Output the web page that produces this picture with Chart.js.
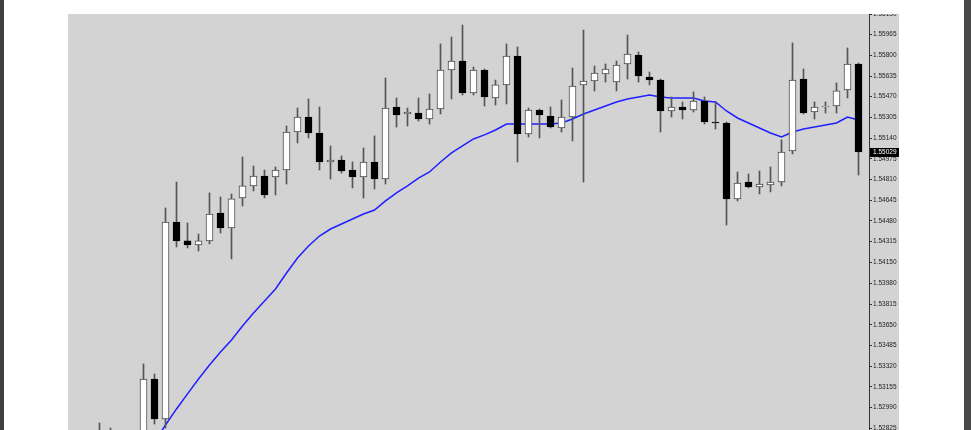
<!DOCTYPE html>
<html>
<head>
<meta charset="utf-8">
<title>Candles + MA</title>
<script src="https://cdn.jsdelivr.net/npm/chart.js@4.4.1/dist/chart.umd.min.js"></script>
<style>
    html, body { margin: 0; padding: 0; background: #fff; }
    canvas { display: block; }
</style>
</head>
<body>
<canvas id="chart" width="971" height="430"></canvas>
<script>
// ===================================================================
// Candlestick chart (MT4 style) drawn with floating bars + MA line
// ===================================================================

// bar index, one per candle
const bars = Array.from({ length: 70 }, (_, i) => i);

const opens = [
    1.52790, 1.52770, 1.52790, 1.52720, 1.52760, 1.53217, 1.52898, 1.54470, 1.54319, 1.54287,
    1.54319, 1.54542, 1.54422, 1.54662, 1.54758, 1.54837, 1.54829, 1.54885, 1.55188, 1.55308,
    1.55180, 1.54949, 1.54965, 1.54885, 1.54829, 1.54949, 1.54813, 1.55388, 1.55332, 1.55340,
    1.55292, 1.55372, 1.55683, 1.55755, 1.55500, 1.55683, 1.55460, 1.55564, 1.55795, 1.55173,
    1.55364, 1.55316, 1.55220, 1.55308, 1.55564, 1.55595, 1.55651, 1.55587, 1.55731, 1.55803,
    1.55627, 1.55603, 1.55356, 1.55388, 1.55364, 1.55436, 1.55268, 1.55260, 1.54654, 1.54789,
    1.54750, 1.54765, 1.54789, 1.55037, 1.55611, 1.55348, 1.55388, 1.55396, 1.55524, 1.55731
];
const highs = [
    1.52866, 1.52826, 1.52805, 1.52800, 1.53337, 1.53257, 1.54582, 1.54789, 1.54462, 1.54374,
    1.54702, 1.54670, 1.54694, 1.54989, 1.54917, 1.54885, 1.54909, 1.55236, 1.55380, 1.55452,
    1.55388, 1.55077, 1.54997, 1.54949, 1.55061, 1.55157, 1.55619, 1.55460, 1.55380, 1.55460,
    1.55492, 1.55891, 1.55946, 1.56042, 1.55707, 1.55691, 1.55603, 1.55891, 1.55867, 1.55380,
    1.55372, 1.55388, 1.55444, 1.55699, 1.56002, 1.55715, 1.55731, 1.55755, 1.55962, 1.55827,
    1.55667, 1.55611, 1.55468, 1.55428, 1.55508, 1.55468, 1.55428, 1.55268, 1.54869, 1.54853,
    1.54877, 1.54909, 1.55125, 1.55899, 1.55691, 1.55428, 1.55428, 1.55580, 1.55859, 1.55739
];
const lows = [
    1.52720, 1.52700, 1.52680, 1.52660, 1.52700, 1.52858, 1.52826, 1.54271, 1.54263, 1.54239,
    1.54295, 1.54382, 1.54175, 1.54598, 1.54718, 1.54662, 1.54686, 1.54773, 1.55101, 1.55141,
    1.54885, 1.54813, 1.54861, 1.54742, 1.54662, 1.54734, 1.54773, 1.55228, 1.55236, 1.55276,
    1.55252, 1.55332, 1.55452, 1.55484, 1.55484, 1.55396, 1.55404, 1.55412, 1.54949, 1.55149,
    1.55141, 1.55220, 1.55188, 1.55117, 1.54789, 1.55516, 1.55587, 1.55516, 1.55611, 1.55587,
    1.55564, 1.55188, 1.55308, 1.55292, 1.55348, 1.55252, 1.55212, 1.54446, 1.54638, 1.54742,
    1.54694, 1.54710, 1.54758, 1.55013, 1.55332, 1.55292, 1.55340, 1.55340, 1.55460, 1.54845
];
const closes = [
    1.52770, 1.52790, 1.52720, 1.52760, 1.53217, 1.52898, 1.54470, 1.54319, 1.54287, 1.54319,
    1.54534, 1.54422, 1.54654, 1.54758, 1.54837, 1.54686, 1.54885, 1.55188, 1.55308, 1.55180,
    1.54949, 1.54965, 1.54877, 1.54829, 1.54949, 1.54813, 1.55380, 1.55324, 1.55348, 1.55292,
    1.55372, 1.55683, 1.55755, 1.55500, 1.55683, 1.55468, 1.55564, 1.55795, 1.55173, 1.55364,
    1.55324, 1.55228, 1.55308, 1.55555, 1.55595, 1.55659, 1.55691, 1.55723, 1.55811, 1.55635,
    1.55603, 1.55356, 1.55388, 1.55364, 1.55436, 1.55268, 1.55260, 1.54654, 1.54781, 1.54750,
    1.54773, 1.54789, 1.55029, 1.55603, 1.55340, 1.55388, 1.55396, 1.55516, 1.55731, 1.55029
];

// moving average (blue line)
const ma = [
    null, null, null, null, null,
    1.52714, 1.52850, 1.52978, 1.53098, 1.53217,
    1.53329, 1.53433, 1.53529, 1.53640, 1.53744, 1.53840, 1.53936, 1.54063, 1.54183, 1.54279,
    1.54358, 1.54414, 1.54454, 1.54494, 1.54534, 1.54566, 1.54638, 1.54702, 1.54758, 1.54821,
    1.54869, 1.54949, 1.55021, 1.55077, 1.55133, 1.55165, 1.55204, 1.55252, 1.55252, 1.55252,
    1.55252, 1.55252, 1.55260, 1.55292, 1.55332, 1.55364, 1.55396, 1.55428, 1.55452, 1.55468,
    1.55484, 1.55468, 1.55460, 1.55460, 1.55460, 1.55436, 1.55428, 1.55356, 1.55300, 1.55260,
    1.55220, 1.55180, 1.55149, 1.55188, 1.55212, 1.55228, 1.55244, 1.55260, 1.55308, 1.55284
];

// price axis labels (as printed on the right scale)
const tickLabels = [
    '1.56130', '1.55965', '1.55800', '1.55635', '1.55470', '1.55305', '1.55140',
    '1.54975', '1.54810', '1.54645', '1.54480', '1.54315', '1.54150', '1.53980',
    '1.53815', '1.53650', '1.53485', '1.53320', '1.53155', '1.52990', '1.52825'
];
const lastPrice = 1.55029;

const GRAY_BG = '#d3d3d3';
const AXIS_W = 30;

// background, window frame, clipped top and current-price tag
const frame = {
    id: 'frame',
    beforeDraw(chart) {
        const { ctx, chartArea: a } = chart;
        ctx.save();
        ctx.fillStyle = '#ffffff';
        ctx.fillRect(0, 0, chart.width, chart.height);
        ctx.fillStyle = GRAY_BG;
        ctx.fillRect(a.left, a.top, a.right - a.left + AXIS_W, chart.height - a.top);
        ctx.restore();
    },
    afterDraw(chart) {
        const { ctx, chartArea: a } = chart;
        ctx.save();
        // top band hides the upper half of the first label
        ctx.fillStyle = '#ffffff';
        ctx.fillRect(0, 0, chart.width, a.top);

        // window edges
        ctx.fillStyle = '#3e4143';
        ctx.fillRect(0, 0, 4, chart.height);
        ctx.fillStyle = '#47494b';
        ctx.fillRect(chart.width - 7, 0, 7, chart.height);

        // last price tag
        const y = chart.scales.y.getPixelForValue(lastPrice);
        ctx.fillStyle = '#000000';
        ctx.fillRect(a.right + 1, Math.round(y) - 4, AXIS_W - 1, 9);
        ctx.fillStyle = '#ffffff';
        ctx.font = '6.5px "Liberation Sans", Arial, sans-serif';
        ctx.textBaseline = 'middle';
        ctx.fillText(lastPrice.toFixed(5), a.right + 4, Math.round(y) + 0.5);
        ctx.restore();
    }
};

const bodyColors = bars.map(i => closes[i] >= opens[i] ? '#ffffff' : '#000000');
const bodyBorders = bars.map(i => closes[i] >= opens[i] ? '#4a4a4a' : '#000000');

new Chart(document.getElementById('chart').getContext('2d'), {
    data: {
        datasets: [
            {
                type: 'bar',
                label: 'body',
                data: bars.map(i => ({ x: i, y: [opens[i], closes[i]] })),
                backgroundColor: bodyColors,
                borderColor: bodyBorders,
                borderWidth: 1,
                borderSkipped: false,
                barThickness: 7,
                minBarLength: 1,
                grouped: false,
                order: 1
            },
            {
                type: 'bar',
                label: 'wick',
                data: bars.map(i => ({ x: i, y: [lows[i], highs[i]] })),
                backgroundColor: '#555555',
                borderWidth: 0,
                borderSkipped: false,
                barThickness: 1,
                grouped: false,
                order: 2
            },
            {
                type: 'line',
                label: 'MA',
                data: bars.map(i => ({ x: i, y: ma[i] })),
                borderColor: '#1f1fff',
                borderWidth: 1.5,
                pointRadius: 0,
                tension: 0,
                order: 3
            }
        ]
    },
    options: {
        responsive: false,
        animation: false,
        events: [],
        layout: { padding: { left: 68, top: 14, right: 72, bottom: 0 } },
        plugins: {
            legend: { display: false },
            tooltip: { enabled: false }
        },
        scales: {
            x: {
                type: 'linear',
                display: false,
                offset: false,
                grid: { offset: false },
                min: -31.5 / 11,
                max: 769.5 / 11
            },
            y: {
                type: 'linear',
                position: 'right',
                min: 1.52810,
                max: 1.56130,
                afterFit: (scale) => {
                    scale.width = AXIS_W;
                    // let the bottom label run off the canvas like the original
                    scale.paddingTop = 0;
                    scale.paddingBottom = 0;
                },
                afterBuildTicks: (scale) => {
                    scale.ticks = tickLabels.map(t => ({ value: parseFloat(t) }));
                },
                border: { color: '#333333', width: 1 },
                grid: { drawOnChartArea: false, drawTicks: true, tickLength: 3, color: '#333333' },
                ticks: {
                    autoSkip: false,
                    padding: 1,
                    color: '#222222',
                    font: { family: '"Liberation Sans", Arial, sans-serif', size: 6.5 },
                    callback: (value, index) => tickLabels[index]
                }
            }
        }
    },
    plugins: [frame]
});
</script>
</body>
</html>
